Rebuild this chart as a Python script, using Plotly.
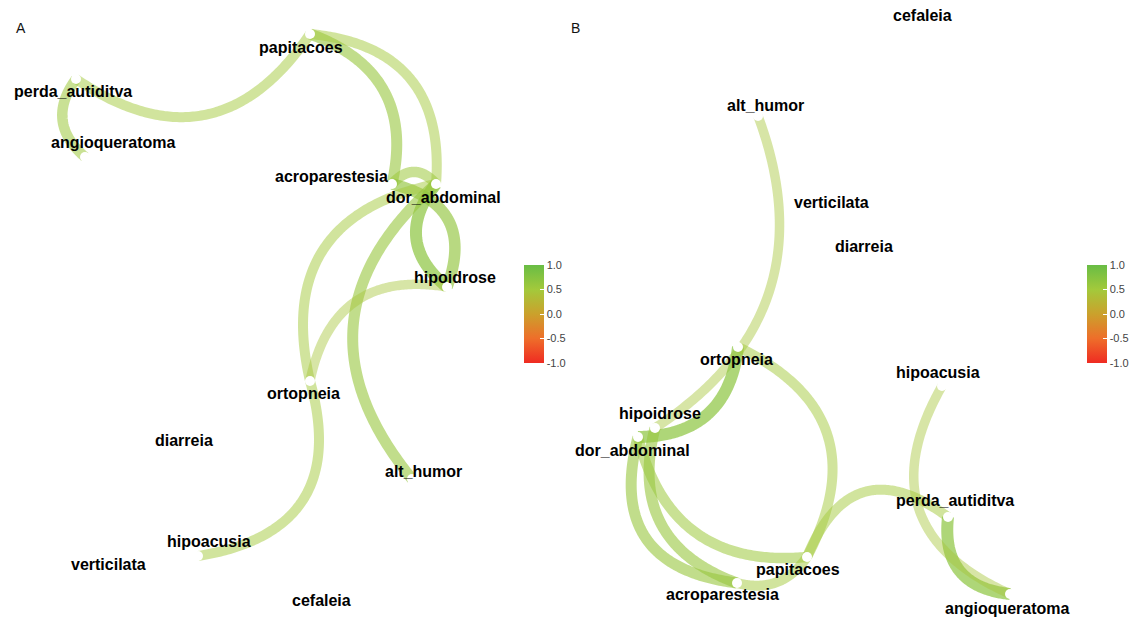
import numpy as np
import plotly.graph_objects as go
from plotly.colors import sample_colorscale

# ---------------- data ----------------
# Node layout coordinates (layout units), one panel per network
nodes_a = ["papitacoes", "perda_autiditva", "angioqueratoma", "acroparestesia",
           "dor_abdominal", "hipoidrose", "ortopneia", "diarreia", "alt_humor",
           "hipoacusia", "verticilata", "cefaleia"]
x_a = [3.10, 0.76, 0.85, 3.92, 4.36, 4.47, 3.10, 1.84, 4.12, 1.98, 1.08, 3.21]
y_a = [5.88, 5.43, 4.65, 4.38, 4.38, 3.35, 2.41, 1.82, 1.43, 0.66, 0.58, 0.22]

nodes_b = ["cefaleia", "alt_humor", "verticilata", "diarreia", "ortopneia",
           "hipoacusia", "hipoidrose", "dor_abdominal", "perda_autiditva",
           "papitacoes", "acroparestesia", "angioqueratoma"]
x_b = [3.535, 1.895, 2.625, 2.955, 1.695, 3.735, 0.865, 0.695, 3.795, 2.385, 1.685, 4.415]
y_b = [6.07, 5.06, 4.20, 3.76, 2.75, 2.36, 1.94, 1.85, 1.05, 0.65, 0.39, 0.28]

# Directed edges: source, target, weight, arc strength
edge_from_a = ["papitacoes", "perda_autiditva", "papitacoes", "papitacoes",
               "acroparestesia", "acroparestesia", "dor_abdominal", "dor_abdominal",
               "dor_abdominal", "hipoidrose", "ortopneia"]
edge_to_a = ["perda_autiditva", "angioqueratoma", "acroparestesia", "dor_abdominal",
             "dor_abdominal", "hipoidrose", "hipoidrose", "ortopneia",
             "alt_humor", "ortopneia", "hipoacusia"]
edge_w_a = [0.50, 0.55, 0.60, 0.50, 0.55, 0.65, 0.70, 0.50, 0.60, 0.45, 0.50]
edge_bend_a = [0.50, -0.46, 0.44, 0.49, 0.55, 0.56, -0.49, -0.51, -0.48, -0.48, 0.56]

edge_from_b = ["alt_humor", "ortopneia", "ortopneia", "dor_abdominal", "dor_abdominal",
               "hipoidrose", "acroparestesia", "papitacoes", "perda_autiditva",
               "hipoacusia"]
edge_to_b = ["hipoidrose", "dor_abdominal", "papitacoes", "papitacoes", "acroparestesia",
             "acroparestesia", "papitacoes", "perda_autiditva", "angioqueratoma",
             "angioqueratoma"]
edge_w_b = [0.45, 0.70, 0.50, 0.55, 0.60, 0.60, 0.50, 0.50, 0.70, 0.45]
edge_bend_b = [0.40, 0.44, 0.52, -0.43, -0.57, -0.45, -0.35, 0.64, -0.50, -0.55]

# Label nudges in pixels (dx right, dy down)
label_nudge_a = {
    "papitacoes": (-9, 13), "perda_autiditva": (-3, 12), "angioqueratoma": (28, -15),
    "acroparestesia": (-61, -8), "dor_abdominal": (7, 13), "hipoidrose": (8, -10),
    "ortopneia": (-7, 12), "alt_humor": (11, -8), "hipoacusia": (11, -15),
}
label_nudge_b = {
    "alt_humor": (7, -11), "ortopneia": (-2, 12), "hipoacusia": (-4, -14),
    "hipoidrose": (5, -15), "dor_abdominal": (-6, 13), "perda_autiditva": (7, -17),
    "papitacoes": (-9, 12), "acroparestesia": (-15, 11), "angioqueratoma": (-3, 14),
}

# ---------------- styling ----------------
W, H = 1137, 622
EDGE_SCALE = [[0.0, "#EF2B22"], [0.25, "#EE6E2A"], [0.5, "#CBA12C"],
              [0.75, "#A3C93B"], [1.0, "#69BD45"]]
LABEL_FONT = dict(family="Liberation Sans, Arial, sans-serif", size=16,
                  color="#000000", weight="bold")


def edge_rgba(w):
    c = sample_colorscale(EDGE_SCALE, [(w + 1) / 2])[0]
    r, g, b = [int(float(v)) for v in c[c.index("(") + 1:-1].split(",")]
    return f"rgba({r},{g},{b},{w:.2f})"


def arc(p0, p1, bend, n=120):
    p0, p1 = np.asarray(p0, float), np.asarray(p1, float)
    d = p1 - p0
    ctrl = (p0 + p1) / 2 + bend * np.array([-d[1], d[0]])
    t = np.linspace(0, 1, n)[:, None]
    pts = (1 - t) ** 2 * p0 + 2 * (1 - t) * t * ctrl + t ** 2 * p1
    return pts[:, 0], pts[:, 1]


fig = go.Figure()
annotations = []


def draw_panel(nodes, xs, ys, e_from, e_to, e_w, e_bend, nudges, xref, yref):
    pos = {n: (x, y) for n, x, y in zip(nodes, xs, ys)}
    for s, t, w, b in zip(e_from, e_to, e_w, e_bend):
        ex, ey = arc(pos[s], pos[t], b)
        fig.add_trace(go.Scatter(
            x=ex, y=ey, mode="lines", xaxis=xref, yaxis=yref,
            line=dict(color=edge_rgba(w), width=5 + 10 * w, simplify=False),
            hoverinfo="skip", showlegend=False))
    fig.add_trace(go.Scatter(
        x=xs, y=ys, mode="markers", xaxis=xref, yaxis=yref,
        marker=dict(color="white", size=10, line=dict(width=0)),
        hoverinfo="skip", showlegend=False))
    for n, x, y in zip(nodes, xs, ys):
        dx, dy = nudges.get(n, (0, 0))
        annotations.append(dict(
            x=x, y=y, xref=xref, yref=yref, text=n, showarrow=False,
            xshift=dx, yshift=-dy, font=LABEL_FONT))


draw_panel(nodes_a, x_a, y_a, edge_from_a, edge_to_a, edge_w_a, edge_bend_a,
           label_nudge_a, "x", "y")
draw_panel(nodes_b, x_b, y_b, edge_from_b, edge_to_b, edge_w_b, edge_bend_b,
           label_nudge_b, "x2", "y2")


# Colour bars for edge weight
def add_colorbar(xref, yref, x_left):
    fig.add_trace(go.Scatter(
        x=[0], y=[0], mode="markers", xaxis=xref, yaxis=yref,
        marker=dict(size=1, opacity=0, color=[0], cmin=-1, cmax=1,
                    colorscale=EDGE_SCALE, showscale=True,
                    colorbar=dict(
                        x=x_left / W, xanchor="left", xpad=0,
                        y=1 - 314 / H, yanchor="middle", ypad=0,
                        len=98, lenmode="pixels", thickness=20,
                        outlinewidth=0, ticks="inside", ticklen=4,
                        tickcolor="white", tickwidth=1,
                        tickvals=[-1, -0.5, 0, 0.5, 1],
                        ticktext=["-1.0", "-0.5", "0.0", "0.5", "1.0"],
                        tickfont=dict(family="Liberation Sans, Arial", size=11,
                                      color="#444444"))),
        hoverinfo="skip", showlegend=False))


add_colorbar("x", "y", 524)
add_colorbar("x2", "y2", 1087)

for letter, px in (("A", 14), ("B", 575)):
    annotations.append(dict(x=px / W, y=1 - 18 / H, xref="paper", yref="paper",
                            text=letter, showarrow=False,
                            font=dict(family="Liberation Sans, Arial", size=14,
                                      color="#111111")))

axis_common = dict(visible=False, showgrid=False, zeroline=False, fixedrange=True)
fig.update_layout(
    width=W, height=H,
    margin=dict(l=0, r=0, t=0, b=0),
    paper_bgcolor="white", plot_bgcolor="white",
    xaxis=dict(domain=[0, 0.5], range=[0, 5.685], **axis_common),
    yaxis=dict(domain=[0, 1], range=[0, 6.22], **axis_common),
    xaxis2=dict(domain=[0.5, 1], range=[0, 5.685], anchor="y2", **axis_common),
    yaxis2=dict(domain=[0, 1], range=[0, 6.22], anchor="x2", **axis_common),
    annotations=annotations,
    showlegend=False,
)

fig.write_html("out.html")
